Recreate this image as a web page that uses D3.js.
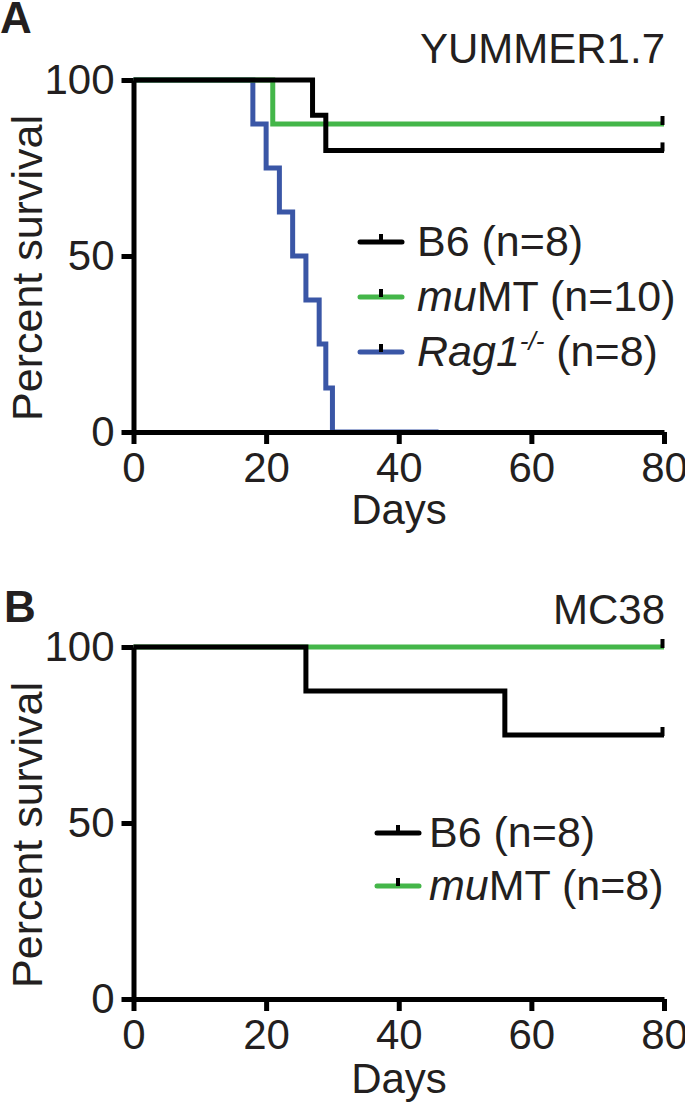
<!DOCTYPE html>
<html>
<head>
<meta charset="utf-8">
<script src="https://cdn.jsdelivr.net/npm/d3@7"></script>
<style>
  html, body { margin: 0; padding: 0; background: #fff; }
  svg { display: block; }
  text { font-family: "Liberation Sans", Arial, Helvetica, sans-serif; fill: #231f20; }
</style>
</head>
<body>
<svg id="chart" width="685" height="1102"></svg>
<script>
// ---------------- DATA ----------------
const xTicks = [0, 20, 40, 60, 80];
const yTicks = [0, 50, 100];

// Panel A: YUMMER1.7
const aB6Days   = [0, 27, 29, 80];
const aB6Surv   = [100, 90, 80, 80];
const aMuMTDays = [0, 21, 80];
const aMuMTSurv = [100, 87.5, 87.5];
const aRagDays  = [0, 18, 20, 22, 24, 26, 28, 29, 30, 46];
const aRagSurv  = [100, 87.5, 75, 62.5, 50, 37.5, 25, 12.5, 0, 0];

// Panel B: MC38
const bB6Days   = [0, 26, 56, 80];
const bB6Surv   = [100, 87.5, 75, 75];
const bMuMTDays = [0, 80];
const bMuMTSurv = [100, 100];

const colB6 = "#000000";
const colMuMT = "#44b649";
const colRag = "#3a56a6";

// ---------------- DRAW ----------------
const svg = d3.select("#chart");
const TXT = "#231f20";

function zip(days, surv) { return days.map((d, i) => ({ d: d, s: surv[i] })); }

function drawPanel(cfg) {
  const x = d3.scaleLinear().domain([0, 80]).range([133.5, 664]);
  const y = d3.scaleLinear().domain([0, 100]).range([cfg.y0, cfg.y0 - 352]);
  const g = svg.append("g");

  const line = d3.line().x(p => x(p.d)).y(p => y(p.s)).curve(d3.curveStepAfter);

  // curves (drawn first so axis sits over the 0% segment)
  cfg.series.forEach(s => {
    g.append("path")
      .datum(zip(s.days, s.surv))
      .attr("d", line)
      .attr("fill", "none")
      .attr("stroke", s.color)
      .attr("stroke-width", 5)
      .attr("stroke-linejoin", "miter");
  });

  // axes
  const xAxis = d3.axisBottom(x).tickValues(xTicks).tickSize(12).tickSizeOuter(0).tickPadding(8);
  const yAxis = d3.axisLeft(y).tickValues(yTicks).tickSize(12).tickSizeOuter(0).tickPadding(7);

  const gx = g.append("g").attr("transform", `translate(0,${cfg.y0})`).call(xAxis);
  const gy = g.append("g").attr("transform", `translate(133.5,0)`).call(yAxis);
  [gx, gy].forEach(a => {
    a.select(".domain").attr("stroke", "#000").attr("stroke-width", 5);
    a.selectAll(".tick line").attr("stroke", "#000").attr("stroke-width", 5);
    a.selectAll(".tick text").attr("fill", TXT).style("font-size", "42px")
      .style("font-family", '"Liberation Sans", Arial, sans-serif');
  });

  // re-draw survival curves' upper parts over the axis? keep black on top lines
  cfg.series.filter(s => s.topAgain).forEach(s => {
    g.append("path")
      .datum(zip(s.days, s.surv))
      .attr("d", line)
      .attr("fill", "none")
      .attr("stroke", s.color)
      .attr("stroke-width", 5);
  });

  // censor ticks at end
  cfg.series.filter(s => s.censor).forEach(s => {
    const last = s.days.length - 1;
    g.append("line")
      .attr("x1", x(s.days[last]) - 1.5).attr("x2", x(s.days[last]) - 1.5)
      .attr("y1", y(s.surv[last]) + 1).attr("y2", y(s.surv[last]) - 8)
      .attr("stroke", "#000").attr("stroke-width", 4);
  });

  // axis labels
  g.append("text")
    .attr("transform", `translate(42,${cfg.y0 - 176 + 12}) rotate(-90)`)
    .attr("text-anchor", "middle")
    .style("font-size", "43px")
    .text("Percent survival");

  g.append("text")
    .attr("x", 399).attr("y", cfg.daysY)
    .attr("text-anchor", "middle")
    .style("font-size", "42px")
    .text("Days");

  // panel letter
  g.append("text")
    .attr("x", cfg.letterX).attr("y", cfg.letterY)
    .style("font-size", "44px").style("font-weight", "bold")
    .attr("fill", "#000")
    .text(cfg.letter);

  // title
  g.append("text")
    .attr("x", 665).attr("y", cfg.titleY)
    .attr("text-anchor", "end")
    .style("font-size", "42px")
    .text(cfg.title);

  // legend
  cfg.legend.forEach((l, i) => {
    const ly = cfg.legY + i * cfg.legStep;
    g.append("line")
      .attr("x1", cfg.legX).attr("x2", cfg.legX + 42)
      .attr("y1", ly).attr("y2", ly)
      .attr("stroke", l.color).attr("stroke-width", 5).attr("stroke-linecap", "round");
    g.append("rect")
      .attr("x", cfg.legX + 19).attr("y", ly - 8)
      .attr("width", 4).attr("height", 8)
      .attr("fill", "#000");
    const t = g.append("text")
      .attr("x", cfg.legX + cfg.legTextDx).attr("y", ly + 14)
      .style("font-size", "43px");
    l.parts.forEach(p => {
      const ts = t.append("tspan").text(p.t);
      if (p.i) ts.style("font-style", "italic");
      if (p.sup) ts.style("font-size", "26px").attr("dy", "-16");
      if (p.after) ts.attr("dy", "16");
    });
  });
}

drawPanel({
  y0: 432,
  daysY: 524,
  letter: "A", letterX: 0, letterY: 33,
  title: "YUMMER1.7", titleY: 63,
  series: [
    { days: aRagDays, surv: aRagSurv, color: colRag },
    { days: aMuMTDays, surv: aMuMTSurv, color: colMuMT, censor: true },
    { days: aB6Days, surv: aB6Surv, color: colB6, censor: true }
  ],
  legX: 360, legY: 242, legStep: 55, legTextDx: 57,
  legend: [
    { color: colB6, parts: [{ t: "B6 (n=8)" }] },
    { color: colMuMT, parts: [{ t: "mu", i: true }, { t: "MT (n=10)" }] },
    { color: colRag, parts: [{ t: "Rag1", i: true }, { t: "-/-", i: true, sup: true }, { t: " (n=8)", after: true }] }
  ]
});

drawPanel({
  y0: 999,
  daysY: 1093,
  letter: "B", letterX: 4, letterY: 622,
  title: "MC38", titleY: 624,
  series: [
    { days: bMuMTDays, surv: bMuMTSurv, color: colMuMT, censor: true },
    { days: bB6Days, surv: bB6Surv, color: colB6, censor: true }
  ],
  legX: 377, legY: 833, legStep: 53, legTextDx: 52,
  legend: [
    { color: colB6, parts: [{ t: "B6 (n=8)" }] },
    { color: colMuMT, parts: [{ t: "mu", i: true }, { t: "MT (n=8)" }] }
  ]
});
</script>
</body>
</html>
